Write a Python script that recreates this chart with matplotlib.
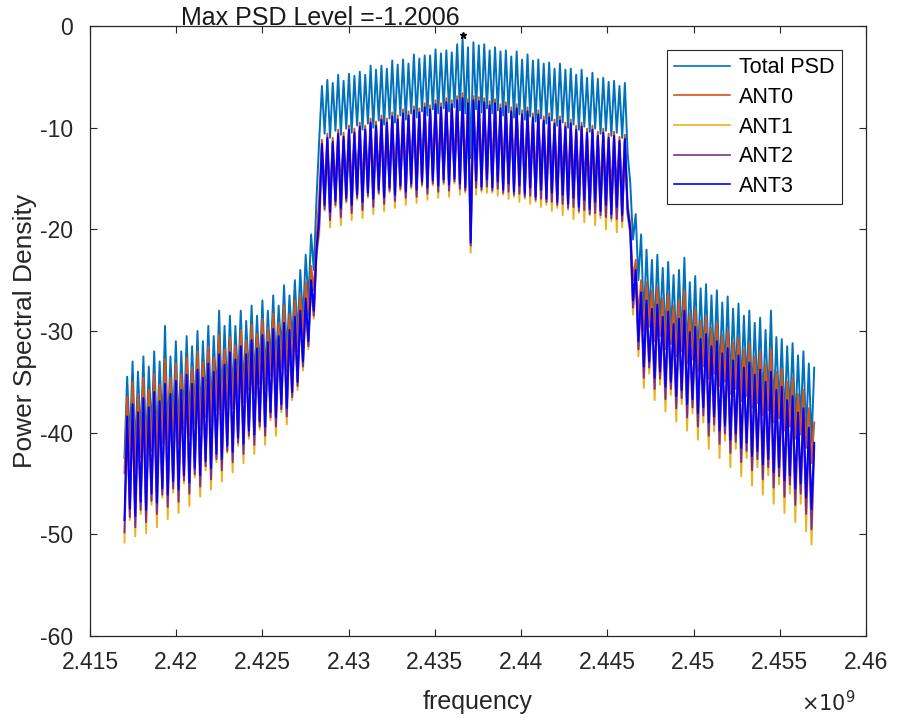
import numpy as np
import matplotlib
matplotlib.use("Agg")
import matplotlib.pyplot as plt
from matplotlib.ticker import FuncFormatter

# ── Frequency span (Hz) covered by the PSD ──
F_START = 2.417e9
F_STOP = 2.457e9

# ── Peak (hi) / trough (lo) levels per ripple period (dB) ──
total_hi = [
    -34.5, -33.0, -34.0, -32.5, -33.5, -32.0, -33.0, -29.5, -32.5, -31.0, -32.0, -30.5,
    -31.5, -30.0, -31.0, -29.5, -30.5, -28.0, -29.5, -28.5, -29.5, -28.0, -29.0, -27.5,
    -28.5, -27.0, -28.0, -26.5, -27.5, -25.5, -26.5, -25.0, -24.0, -22.5, -20.5, -17.0,
    -5.9, -5.3, -5.6, -4.8, -5.4, -4.7, -4.9, -4.5, -4.8, -3.9, -4.3, -3.9,
    -4.2, -3.4, -3.8, -3.3, -3.7, -2.8, -3.2, -2.9, -2.9, -2.3, -2.7, -2.4,
    -2.6, -1.8, -1.2006, -2.1,
    -1.6, -1.9, -1.8, -2.4, -2.1, -2.5, -2.4, -3.0, -2.5, -3.3, -2.8, -3.4,
    -3.3, -3.7, -3.6, -4.2, -3.7, -4.3, -4.2, -4.8, -4.3, -5.1, -4.6, -5.2,
    -5.1, -5.5, -5.4, -5.9, -5.6,
    -15.5, -18.5, -20.5,
    -22.0, -23.0, -22.5, -23.8, -23.2, -24.5, -24.0, -22.8, -25.2, -24.6, -25.8, -25.4,
    -26.5, -26.0, -27.2, -26.6, -27.8, -27.3, -28.5, -28.0, -29.2, -28.7, -29.9, -28.0,
    -30.6, -30.8, -31.5, -31.2, -32.4, -32.0, -33.2, -33.6,
]
total_lo = [
    -42.5, -41.0, -42.0, -40.5, -41.5, -40.0, -41.0, -39.5, -40.5, -39.0, -40.0, -38.5,
    -39.0, -38.0, -38.5, -37.0, -38.0, -36.5, -37.0, -36.0, -36.5, -35.0, -36.0, -34.5,
    -35.0, -34.0, -34.5, -33.0, -33.5, -32.0, -32.5, -31.0, -30.5, -29.0, -27.0, -24.0,
    -11.2, -10.6, -11.0, -10.3, -10.7, -10.1, -10.5, -9.8, -10.2, -9.6, -10.0, -9.3,
    -9.7, -9.1, -9.5, -8.8, -9.2, -8.6, -9.0, -8.4, -8.8, -8.2, -8.6, -8.1,
    -8.4, -8.0, -8.3, -8.6,
    -13.0,
    -8.2, -8.5, -8.1, -8.6, -8.3, -8.8, -8.5, -9.0, -8.7, -9.2, -8.9,
    -9.4, -9.1, -9.6, -9.3, -9.8, -9.5, -10.0, -9.7, -10.2, -9.9, -10.4, -10.1,
    -10.6, -10.3, -10.8, -10.5, -11.0,
    -12.5, -21.0, -25.0,
    -29.0, -28.5, -30.0, -29.4, -30.8, -30.2, -31.5, -31.0, -32.2, -31.7, -33.0, -32.5,
    -33.6, -33.2, -34.4, -34.0, -35.2, -34.7, -35.8, -35.4, -36.6, -36.1, -37.3, -36.8,
    -38.0, -37.6, -38.8, -38.3, -39.5, -39.0, -40.3, -41.0,
]

ant0_hi = [
    -36.5, -35.0, -36.2, -34.6, -35.8, -34.2, -35.3, -32.8, -34.6, -33.2, -34.3, -32.6,
    -33.6, -32.0, -33.1, -31.5, -32.6, -30.4, -31.8, -30.6, -31.4, -29.9, -30.9, -29.4,
    -30.3, -28.8, -29.7, -28.3, -29.2, -27.5, -28.4, -27.0, -26.4, -25.2, -23.6, -21.0,
    -11.2, -10.6, -11.0, -10.2, -10.5, -9.8, -10.1, -9.5, -9.8, -9.1, -9.4, -8.8,
    -9.1, -8.5, -8.8, -8.2, -8.4, -7.9, -8.1, -7.6, -7.8, -7.3, -7.6, -7.1,
    -7.3, -6.9, -6.6, -7.2,
    -6.9, -7.0, -7.1, -7.4, -7.2, -7.7, -7.5, -8.0, -7.7, -8.3, -8.0, -8.6,
    -8.3, -8.9, -8.6, -9.2, -8.9, -9.5, -9.2, -9.8, -9.5, -10.1, -9.8, -10.4,
    -10.1, -10.6, -10.4, -10.9, -10.7,
    -19.5, -23.0, -25.0,
    -25.2, -26.0, -25.7, -26.8, -26.3, -27.5, -27.0, -26.0, -28.3, -27.8, -29.0, -28.5,
    -29.7, -29.2, -30.4, -29.9, -31.1, -30.6, -31.8, -31.3, -32.5, -32.0, -33.2, -31.8,
    -34.0, -33.7, -35.0, -34.6, -36.2, -35.8, -37.6, -39.0,
]
ant0_lo = [
    -44.0, -43.2, -43.8, -42.4, -43.0, -41.8, -42.5, -41.0, -41.6, -40.5, -41.2, -39.8,
    -40.3, -39.2, -39.8, -38.5, -39.0, -37.8, -38.3, -37.2, -37.6, -36.5, -37.0, -35.8,
    -36.2, -35.2, -35.6, -34.4, -34.9, -33.6, -34.0, -33.0, -32.0, -30.5, -28.5, -26.0,
    -16.8, -16.2, -16.6, -15.9, -16.3, -15.6, -16.0, -15.3, -15.7, -15.0, -15.4, -14.8,
    -15.2, -14.6, -15.0, -14.4, -14.8, -14.2, -14.6, -14.0, -14.4, -13.9, -14.2, -13.8,
    -14.1, -13.7, -14.0, -14.3,
    -20.0,
    -13.8, -14.1, -13.7, -14.2, -13.9, -14.4, -14.1, -14.6, -14.3, -14.8, -14.5,
    -15.0, -14.7, -15.2, -14.9, -15.4, -15.1, -15.6, -15.3, -15.8, -15.5, -16.0, -15.7,
    -16.2, -15.9, -16.4, -16.1, -16.6,
    -17.5, -25.0, -28.5,
    -30.0, -29.6, -31.0, -30.5, -31.8, -31.3, -32.5, -32.0, -33.2, -32.8, -34.0, -33.5,
    -34.7, -34.2, -35.4, -35.0, -36.2, -35.7, -36.9, -36.4, -37.6, -37.1, -38.3, -37.8,
    -39.0, -38.6, -39.8, -39.4, -40.6, -40.2, -41.5, -43.0,
]

ant1_hi = [
    -39.0, -37.9, -38.6, -37.3, -38.1, -36.7, -37.5, -36.0, -36.8, -35.6, -36.4, -35.0,
    -35.8, -34.5, -35.2, -33.9, -34.6, -33.1, -33.9, -32.8, -33.4, -32.2, -32.9, -31.6,
    -32.3, -31.1, -31.7, -30.5, -31.1, -29.9, -30.5, -29.3, -28.6, -27.5, -25.6, -22.6,
    -12.1, -11.5, -11.9, -11.1, -11.4, -10.7, -11.0, -10.4, -10.7, -10.0, -10.3, -9.7,
    -10.0, -9.4, -9.7, -9.1, -9.3, -8.8, -9.0, -8.5, -8.7, -8.2, -8.5, -8.0,
    -8.2, -7.8, -7.6, -8.1,
    -7.8, -7.9, -8.0, -8.3, -8.1, -8.6, -8.4, -8.9, -8.6, -9.2, -8.9, -9.5,
    -9.2, -9.8, -9.5, -10.1, -9.8, -10.4, -10.1, -10.7, -10.4, -11.0, -10.7, -11.3,
    -11.0, -11.5, -11.3, -11.8, -11.6,
    -20.6, -24.6, -26.8,
    -27.6, -28.4, -28.0, -29.2, -28.7, -29.9, -29.4, -28.8, -30.7, -30.2, -31.4, -30.9,
    -32.1, -31.6, -32.8, -32.3, -33.5, -33.0, -34.2, -33.7, -34.9, -34.4, -35.6, -34.8,
    -36.4, -36.1, -37.4, -37.0, -38.6, -38.2, -40.1, -41.6,
]
ant1_lo = [
    -50.8, -48.6, -50.2, -48.0, -49.9, -47.1, -49.3, -46.4, -48.5, -45.9, -47.9, -45.0,
    -47.2, -44.4, -46.3, -43.7, -45.6, -42.9, -44.8, -42.0, -43.9, -41.3, -43.0, -40.6,
    -42.1, -39.7, -41.2, -38.8, -40.3, -38.0, -39.2, -36.8, -35.8, -33.9, -31.8, -28.8,
    -20.5, -18.2, -19.8, -17.8, -19.6, -17.4, -19.1, -17.1, -18.9, -16.9, -18.5, -16.6,
    -18.2, -16.4, -17.9, -16.2, -17.6, -16.0, -17.4, -15.8, -17.1, -15.7, -16.9, -15.6,
    -16.8, -15.5, -16.6, -16.4,
    -22.3,
    -16.6, -16.3, -16.4, -16.4, -16.7, -16.6, -17.0, -16.8, -17.3, -17.0, -17.5,
    -17.3, -17.8, -17.6, -18.2, -17.9, -18.6, -18.1, -19.0, -18.4, -19.3, -18.6, -19.6,
    -18.9, -20.0, -19.2, -20.3, -19.8,
    -18.6, -28.4, -32.5,
    -35.6, -34.2, -36.8, -35.3, -37.9, -36.3, -38.9, -37.2, -39.8, -38.1, -40.7, -39.0,
    -41.6, -39.9, -42.5, -40.8, -43.4, -41.6, -44.3, -42.5, -45.2, -43.4, -46.1, -44.2,
    -47.0, -45.1, -47.9, -46.0, -48.8, -47.0, -49.7, -51.0,
]

ant2_hi = [
    -38.7, -37.5, -38.3, -36.9, -37.8, -36.3, -37.2, -35.6, -36.5, -35.2, -36.1, -34.6,
    -35.5, -34.1, -34.9, -33.5, -34.3, -32.7, -33.6, -32.4, -33.1, -31.8, -32.6, -31.2,
    -32.0, -30.7, -31.4, -30.1, -30.8, -29.5, -30.2, -28.9, -28.3, -27.1, -25.3, -22.3,
    -11.9, -11.3, -11.7, -10.9, -11.2, -10.5, -10.8, -10.2, -10.5, -9.8, -10.1, -9.5,
    -9.8, -9.2, -9.5, -8.9, -9.1, -8.6, -8.8, -8.3, -8.5, -8.0, -8.3, -7.8,
    -8.0, -7.6, -7.4, -7.9,
    -7.6, -7.7, -7.8, -8.1, -7.9, -8.4, -8.2, -8.7, -8.4, -9.0, -8.7, -9.3,
    -9.0, -9.6, -9.3, -9.9, -9.6, -10.2, -9.9, -10.5, -10.2, -10.8, -10.5, -11.1,
    -10.8, -11.3, -11.1, -11.6, -11.4,
    -20.3, -24.3, -26.5,
    -27.3, -28.1, -27.7, -28.9, -28.4, -29.6, -29.1, -28.4, -30.4, -29.9, -31.1, -30.6,
    -31.8, -31.3, -32.5, -32.0, -33.2, -32.7, -33.9, -33.4, -34.6, -34.1, -35.3, -34.4,
    -36.1, -35.8, -37.1, -36.7, -38.3, -37.9, -39.8, -41.3,
]
ant2_lo = [
    -49.8, -48.3, -49.3, -47.6, -48.8, -46.7, -48.0, -46.1, -47.3, -45.5, -46.8, -44.7,
    -46.0, -44.1, -45.3, -43.3, -44.6, -42.6, -43.7, -41.8, -42.9, -41.0, -42.1, -40.3,
    -41.2, -39.4, -40.3, -38.5, -39.4, -37.7, -38.4, -36.5, -35.4, -33.5, -31.5, -28.5,
    -19.7, -18.0, -19.1, -17.6, -18.8, -17.2, -18.4, -16.9, -18.1, -16.7, -17.8, -16.4,
    -17.5, -16.2, -17.2, -16.0, -16.9, -15.8, -16.8, -15.6, -16.5, -15.5, -16.3, -15.4,
    -16.2, -15.3, -16.0, -16.2,
    -21.6,
    -15.9, -16.1, -15.8, -16.2, -16.0, -16.4, -16.3, -16.6, -16.5, -16.8, -16.7,
    -17.1, -17.0, -17.3, -17.3, -17.6, -17.5, -17.9, -17.8, -18.2, -18.1, -18.5, -18.4,
    -18.6, -18.8, -18.9, -19.0, -19.2,
    -18.3, -27.7, -31.8,
    -34.6, -33.6, -35.7, -34.7, -36.7, -35.7, -37.6, -36.6, -38.5, -37.5, -39.4, -38.3,
    -40.3, -39.2, -41.1, -40.1, -42.0, -40.9, -42.9, -41.8, -43.7, -42.6, -44.6, -43.4,
    -45.4, -44.3, -46.3, -45.1, -47.1, -46.0, -48.0, -49.5,
]

ant3_hi = [
    -38.4, -37.2, -38.0, -36.6, -37.5, -36.0, -36.9, -35.2, -36.2, -34.9, -35.8, -34.3,
    -35.2, -33.8, -34.6, -33.2, -34.0, -32.3, -33.3, -32.1, -32.8, -31.5, -32.3, -30.9,
    -31.7, -30.4, -31.1, -29.8, -30.5, -29.2, -29.9, -28.6, -28.0, -26.8, -25.0, -22.0,
    -11.6, -11.0, -11.4, -10.6, -10.9, -10.2, -10.5, -9.9, -10.2, -9.5, -9.8, -9.2,
    -9.5, -8.9, -9.2, -8.6, -8.8, -8.3, -8.5, -8.0, -8.2, -7.7, -8.0, -7.5,
    -7.7, -7.3, -7.1, -7.6,
    -7.3, -7.4, -7.5, -7.8, -7.6, -8.1, -7.9, -8.4, -8.1, -8.7, -8.4, -9.0,
    -8.7, -9.3, -9.0, -9.6, -9.3, -9.9, -9.6, -10.2, -9.9, -10.5, -10.2, -10.8,
    -10.5, -11.0, -10.8, -11.3, -11.1,
    -20.0, -24.0, -26.2,
    -27.0, -27.8, -27.4, -28.6, -28.1, -29.3, -28.8, -28.0, -30.1, -29.6, -30.8, -30.3,
    -31.5, -31.0, -32.2, -31.7, -32.9, -32.4, -33.6, -33.1, -34.3, -33.8, -35.0, -34.0,
    -35.8, -35.5, -36.8, -36.4, -38.0, -37.6, -39.5, -41.0,
]
ant3_lo = [
    -48.6, -47.5, -48.2, -46.8, -47.6, -46.0, -46.9, -45.5, -46.1, -44.8, -45.6, -44.2,
    -44.9, -43.5, -44.2, -42.8, -43.5, -42.1, -42.6, -41.3, -41.9, -40.5, -41.1, -39.8,
    -40.2, -38.9, -39.4, -38.0, -38.5, -37.2, -37.6, -36.0, -35.0, -33.0, -31.0, -28.0,
    -18.8, -17.6, -18.3, -17.2, -17.9, -16.9, -17.6, -16.6, -17.3, -16.4, -17.0, -16.1,
    -16.8, -15.9, -16.6, -15.7, -16.3, -15.5, -16.1, -15.3, -15.9, -15.2, -15.7, -15.1,
    -15.6, -15.0, -15.5, -15.9,
    -21.3,
    -15.2, -15.8, -15.1, -15.9, -15.3, -16.1, -15.5, -16.3, -15.7, -16.5, -15.9,
    -16.8, -16.1, -17.0, -16.4, -17.3, -16.6, -17.5, -16.9, -17.8, -17.1, -18.0, -17.3,
    -18.2, -17.6, -18.5, -17.8, -18.6,
    -18.0, -27.0, -31.0,
    -33.5, -33.0, -34.6, -34.0, -35.5, -35.0, -36.4, -35.8, -37.2, -36.7, -38.1, -37.5,
    -39.0, -38.4, -39.8, -39.3, -40.7, -40.1, -41.5, -41.0, -42.3, -41.8, -43.1, -42.6,
    -43.9, -43.4, -44.7, -44.2, -45.5, -45.0, -46.4, -47.5,
]

series_names = ["Total PSD", "ANT0", "ANT1", "ANT2", "ANT3"]
series_colors = ["#0072BD", "#D95319", "#EDB120", "#7E2F8E", "#0000FF"]

x_ticks = [2.415e9, 2.42e9, 2.425e9, 2.43e9, 2.435e9, 2.44e9, 2.445e9, 2.45e9, 2.455e9, 2.46e9]
y_ticks = [-60, -50, -40, -30, -20, -10, 0]


def interleave(lo, hi):
    """Trough then peak for every ripple period."""
    out = np.empty(2 * len(lo))
    out[0::2] = lo
    out[1::2] = hi
    return out


plt.rcParams["font.family"] = ["Liberation Sans", "DejaVu Sans"]
plt.rcParams["axes.unicode_minus"] = False

fig = plt.figure(figsize=(8.97, 7.2), dpi=100)
ax = fig.add_axes([0.1003, 0.1167, 0.8651, 0.8472])

pairs = [(total_lo, total_hi), (ant0_lo, ant0_hi), (ant1_lo, ant1_hi),
         (ant2_lo, ant2_hi), (ant3_lo, ant3_hi)]
freq = np.linspace(F_START, F_STOP, 2 * len(total_hi))

total_y = None
for (lo, hi), name, col in zip(pairs, series_names, series_colors):
    y = interleave(lo, hi)
    if total_y is None:
        total_y = y
    ax.plot(freq, y, color=col, lw=1.4, label=name)

# ── max marker + annotation ──
i_max = int(np.argmax(total_y))
ax.plot(freq[i_max], total_y[i_max] + 0.3, "k*", markersize=5, clip_on=False)
ax.text(freq[i_max] - 0.2e6, 0.05, f"Max PSD Level ={total_y[i_max]:.4f}",
        ha="right", va="baseline", fontsize=18, color="#1a1a1a", clip_on=False)

ax.set_xlim(2.415e9, 2.46e9)
ax.set_ylim(-60, 0)
ax.set_xticks(x_ticks)
ax.set_yticks(y_ticks)
ax.xaxis.set_major_formatter(FuncFormatter(lambda v, p: f"{v / 1e9:g}"))
ax.tick_params(direction="in", top=True, right=True, length=5, width=0.8,
               labelsize=16.5, colors="#262626")
ax.tick_params(axis="x", pad=11)
ax.tick_params(axis="y", pad=12)
for sp in ax.spines.values():
    sp.set_color("#262626")
    sp.set_linewidth(0.9)

ax.set_xlabel("frequency", fontsize=18, color="#262626", labelpad=11)
ax.set_ylabel("Power Spectral Density", fontsize=19, color="#262626", labelpad=2)
ax.text(0.986, -0.11, r"$\times10^{9}$", transform=ax.transAxes, ha="right", va="center",
        fontsize=15, color="#262626")

leg = ax.legend(loc="upper right", bbox_to_anchor=(0.969, 0.961), borderaxespad=0,
                fontsize=15.5, fancybox=False, framealpha=1, edgecolor="#262626",
                handlelength=2.6, handletextpad=0.4, labelspacing=0.4, borderpad=0.35)
leg.get_frame().set_linewidth(0.8)
for ln in leg.get_lines():
    ln.set_linewidth(1.2)

fig.savefig("out.png", dpi=100)
